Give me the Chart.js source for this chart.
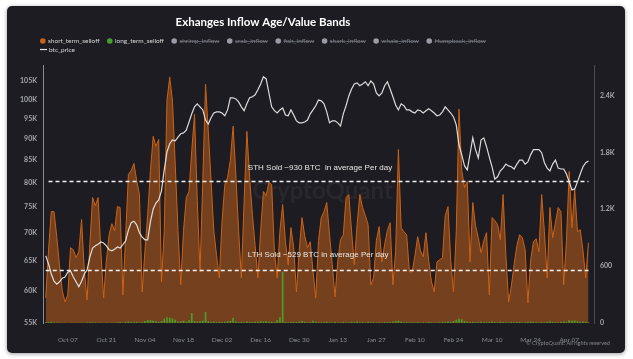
<!DOCTYPE html>
<html>
<head>
<meta charset="utf-8">
<script src="https://cdn.jsdelivr.net/npm/chart.js@4.4.1/dist/chart.umd.min.js"></script>
<style>
  html, body { margin: 0; padding: 0; background: #fff; }
  #wrap { width: 633px; height: 359px; }
</style>
</head>
<body>
<div id="wrap"><canvas id="myChart" width="633" height="359"></canvas></div>
<script>
// daily categories, Sep 28 2024 .. Apr 16 2025
const MONTHS = ['Jan', 'Feb', 'Mar', 'Apr', 'May', 'Jun', 'Jul', 'Aug', 'Sep', 'Oct', 'Nov', 'Dec'];
const dayLabels = [];
for (let i = 0; i <= 200; i++) {
  const d = new Date(Date.UTC(2024, 8, 28) + i * 86400000);
  dayLabels.push(MONTHS[d.getUTCMonth()] + ' ' + String(d.getUTCDate()).padStart(2, '0'));
}
const xTickLabels = ['Oct 07', 'Oct 21', 'Nov 04', 'Nov 18', 'Dec 02', 'Dec 16', 'Dec 30', 'Jan 13', 'Jan 27', 'Feb 10', 'Feb 24', 'Mar 10', 'Mar 24', 'Apr 07'];
const priceTicks = [55000, 60000, 65000, 70000, 75000, 80000, 85000, 90000, 95000, 100000, 105000];
const btcTicks = [0, 600, 1200, 1800, 2400];

// BTC per day
const shortTermSelloff = [null,
  265, 762, 1174, 1174, 910, 603, 339, 222, 296, 794,
  772, 688, 751, 1090, 550, 243, 825, 1323, 1238, 1323,
  762, 265, 656, 931, 1047, 973, 1227, 1217, 296, 920,
  1566, 1608, 1682, 1502, 1354, 328, 762, 1143, 1608, 1968,
  1862, 1936, 434, 963, 2349, 2592, 2338, 1672, 973, 402,
  973, 1323, 1386, 1820, 2200, 1291, 540, 1502, 2518, 2021,
  1502, 973, 709, 476, 1079, 1460, 1534, 1714, 2074, 1566,
  973, 476, 1280, 2021, 1534, 1143, 815, 476, 973, 1386,
  1344, 1481, 1460, 751, 476, 973, 1248, 857, 614, 1005,
  794, 328, 762, 1111, 920, 794, 857, 550, 265, 868,
  1111, 1174, 1270, 931, 614, 275, 656, 878, 931, 1323,
  1354, 973, 614, 1037, 1354, 1217, 1132, 1037, 402, 476,
  868, 1016, 645, 825, 973, 1058, 402, 751, 1830, 1005,
  963, 931, 540, 540, 709, 910, 762, 698, 952, 656,
  434, 328, 645, 667, 688, 1132, 1227, 656, 328, 963,
  2254, 1608, 1428, 1492, 645, 1270, 1026, 899, 741, 868,
  952, 296, 1111, 1079, 1037, 878, 1354, 719, 222, 391,
  614, 815, 931, 899, 772, 212, 656, 857, 889, 751,
  1354, 963, 476, 1217, 899, 1058, 1217, 1174, 402, 868,
  1598, 1005, 1407, 963, 984, 762, 476, 846, null, null];

const longTermSelloff = [0,
  8, 10, 12, 6, 5, 4,
  3, 2, 0, 2, 1, 3, 2, 4, 2,
  5, 8, 6, 4, 3, 5, 2, 4, 3, 6, 3,
  8, 10, 6, 12, 15, 10, 8, 12, 6,
  10, 20, 28, 30, 25, 18, 12,
  20, 45, 60, 55, 50, 35,
  15, 20, 25, 12,
  30, 105, 20, 15,
  18, 25, 115, 20,
  10, 15, 8, 12, 10,
  12, 18, 20, 55, 15,
  10, 12, 8, 15, 12, 10, 14, 12,
  20, 15, 18, 12, 14,
  10, 30, 60, 540, 10,
  8, 10, 12, 10, 14, 20, 12,
  8, 10, 25, 12, 8, 6, 10, 15, 8, 6, 10, 5, 8, 12, 6,
  8, 12, 10, 15, 8, 10, 6, 12, 8, 10, 5, 8, 6, 10, 8,
  10, 14, 20, 25, 12, 8, 10, 6,
  8, 6, 10, 5, 8, 6, 10, 8, 5, 6, 8, 12, 10, 15, 12,
  20, 35, 45, 40, 20, 15, 10,
  12, 10, 8, 14, 10, 8, 12, 15, 10, 8, 14, 10, 8, 6, 10,
  8, 10, 12, 6, 8, 10, 14, 12, 8, 6, 10, 8, 12, 15, 10,
  10, 8, 12, 15, 10, 30, 25, 28, 18, 12, 15, 10, 8, null, null];

// USD, thousands
const btcPriceK = [null,
  65.8, 64.4, 62.7, 61.5, 61.0, 61.4, 62.0, 62.2, 63.0, 63.2,
  62.2, 61.4, 60.6, 61.5, 62.7, 63.4, 65.6, 67.2, 67.6, 67.9,
  68.3, 68.1, 67.6, 66.9, 66.7, 67.0, 67.4, 67.2, 67.8, 68.5,
  70.5, 71.9, 72.2, 71.5, 70.0, 69.2, 68.7, 68.7, 72.1, 74.6,
  75.8, 76.4, 78.3, 82.8, 86.9, 88.8, 89.7, 89.5, 90.4, 91.2,
  91.4, 92.1, 94.1, 96.2, 98.0, 98.8, 98.0, 97.2, 94.6, 93.6,
  95.2, 96.4, 96.7, 96.7, 96.4, 95.7, 97.2, 100.4, 100.4, 100.1,
  99.3, 98.0, 97.0, 98.8, 100.4, 100.7, 101.2, 102.6, 104.2, 106.2,
  105.6, 101.7, 98.0, 97.0, 96.4, 97.2, 97.7, 95.9, 95.7, 97.2,
  95.9, 94.4, 93.9, 93.9, 94.1, 94.6, 96.2, 97.2, 98.3, 99.8,
  99.6, 98.8, 96.7, 93.9, 94.4, 94.4, 93.9, 93.1, 96.2, 98.3,
  100.9, 102.8, 104.2, 104.5, 103.7, 104.2, 104.8, 103.7, 105.0, 104.2,
  101.7, 100.9, 101.7, 103.7, 104.8, 102.8, 100.7, 98.5, 97.2, 98.8,
  98.3, 97.2, 97.2, 96.7, 96.4, 97.2, 97.0, 96.4, 97.0, 97.5,
  97.0, 96.4, 95.7, 95.9, 96.7, 98.0, 97.2, 96.4, 95.4, 93.4,
  88.5, 86.2, 83.7, 82.8, 86.4, 90.2, 87.4, 85.5, 89.7, 90.2,
  88.1, 85.7, 83.5, 80.8, 81.3, 82.6, 83.2, 84.1, 83.7, 83.5,
  83.0, 84.1, 85.0, 85.0, 84.1, 84.6, 86.2, 87.4, 87.4, 87.4,
  86.7, 84.4, 83.2, 82.6, 84.1, 85.0, 83.2, 83.0, 83.0, 81.9,
  80.2, 78.5, 78.7, 80.2, 81.9, 83.5, 84.4, 84.8, null, null];

const hiddenSeries = ['shrimp_inflow', 'crab_inflow', 'fish_inflow', 'shark_inflow', 'whale_inflow', 'Humpback_inflow'];

// dashed reference levels on the BTC axis, with their notes
const levelValues = [1500, 560];
const levelNotes = ['STH Sold ~930 BTC  in average Per day', 'LTH Sold ~529 BTC in average Per day'];

const BG = '#1c1c22';
const ORANGE = 'rgb(204,98,22)';
const GREEN = '#4a9e2c';
const GREY = '#9a9aa4';

const cardPlugin = {
  id: 'card',
  beforeDraw(chart) {
    const ctx = chart.ctx;
    ctx.save();
    ctx.fillStyle = '#ffffff';
    ctx.fillRect(0, 0, chart.width, chart.height);
    ctx.shadowColor = 'rgba(0,0,0,0.4)';
    ctx.shadowBlur = 4;
    ctx.shadowOffsetY = 1;
    ctx.fillStyle = BG;
    ctx.beginPath();
    ctx.roundRect(7, 6, 618, 347, 5);
    ctx.fill();
    ctx.restore();
  },
  beforeDatasetsDraw(chart) {
    const ctx = chart.ctx;
    const a = chart.chartArea;
    ctx.save();
    ctx.font = 'bold 24px Lato';
    ctx.fillStyle = 'rgba(255,255,255,0.05)';
    ctx.textAlign = 'center';
    ctx.textBaseline = 'middle';
    ctx.fillText('CryptoQuant', (a.left + a.right) / 2 + 4, 191);
    ctx.restore();
  },
  afterDatasetsDraw(chart) {
    const ctx = chart.ctx;
    const y1 = chart.scales.y1;
    const x = chart.scales.x;
    ctx.save();
    levelValues.forEach((v, i) => {
      const py = Math.round(y1.getPixelForValue(v)) + 0.5;
      ctx.strokeStyle = '#f2f2f2';
      ctx.lineWidth = 1.4;
      ctx.setLineDash([4, 3]);
      ctx.beginPath();
      ctx.moveTo(x.getPixelForValue(i === 0 ? 2 : 1), py);
      ctx.lineTo(x.getPixelForValue(198), py);
      ctx.stroke();
      ctx.setLineDash([]);
      ctx.font = '8px "Liberation Sans"';
      ctx.fillStyle = '#e6e6e6';
      ctx.textBaseline = 'middle';
      ctx.textAlign = 'left';
      ctx.fillText(levelNotes[i], x.getPixelForValue(74) + 1, py - (i === 0 ? 14 : 16));
    });
    ctx.restore();
  },
  afterDraw(chart) {
    const ctx = chart.ctx;
    ctx.save();
    // title
    ctx.font = 'bold 11.5px Lato';
    ctx.fillStyle = '#ffffff';
    ctx.textAlign = 'center';
    ctx.textBaseline = 'middle';
    ctx.fillText('Exhanges Inflow Age/Value Bands', 263, 22);
    // legend
    ctx.font = '6.5px Lato';
    ctx.textAlign = 'left';
    let lx = 40, ly = 41;
    chart.data.datasets.forEach((ds, i) => {
      const w = ctx.measureText(ds.label).width;
      if (i === 8) {
        lx = 40; ly = 49.5;
        ctx.strokeStyle = '#e6e6e6';
        ctx.lineWidth = 1.2;
        ctx.beginPath();
        ctx.moveTo(lx, ly);
        ctx.lineTo(lx + 7, ly);
        ctx.stroke();
        ctx.fillStyle = '#d8d8d8';
        ctx.fillText(ds.label, lx + 9, ly);
        return;
      }
      ctx.fillStyle = ds.hidden ? GREY : (i === 0 ? ORANGE : GREEN);
      ctx.beginPath();
      ctx.arc(lx + 2.8, ly, 2.8, 0, Math.PI * 2);
      ctx.fill();
      const tx = lx + 8;
      ctx.fillStyle = ds.hidden ? '#7e7e88' : '#d8d8d8';
      ctx.fillText(ds.label, tx, ly);
      if (ds.hidden) {
        ctx.strokeStyle = '#7e7e88';
        ctx.lineWidth = 0.6;
        ctx.beginPath();
        ctx.moveTo(tx, ly + 0.5);
        ctx.lineTo(tx + w, ly + 0.5);
        ctx.stroke();
      }
      lx = tx + w + 7.5;
    });
    // footer
    ctx.font = '5.5px Lato';
    ctx.fillStyle = '#85858f';
    ctx.textAlign = 'right';
    ctx.fillText('\u00A9 CryptoQuant. All rights reserved', 610, 343);
    ctx.restore();
  }
};

const CHART = document.getElementById('myChart');
const datasets = [
  {
    type: 'line',
    label: 'short_term_selloff',
    data: shortTermSelloff,
    yAxisID: 'y1',
    borderColor: ORANGE,
    backgroundColor: 'rgba(200,98,24,0.52)',
    borderWidth: 1,
    fill: 'origin',
    pointRadius: 0,
    tension: 0,
    order: 3
  },
  {
    type: 'bar',
    label: 'long_term_selloff',
    data: longTermSelloff,
    yAxisID: 'y1',
    backgroundColor: GREEN,
    barPercentage: 0.6,
    categoryPercentage: 1,
    order: 2
  }
];
hiddenSeries.forEach(name => {
  datasets.push({ type: 'line', label: name, data: [], yAxisID: 'y1', hidden: true, borderColor: GREY, backgroundColor: GREY });
});
datasets.push({
  type: 'line',
  label: 'btc_price',
  data: btcPriceK.map(v => v === null ? null : v * 1000),
  yAxisID: 'y',
  borderColor: 'rgba(236,236,236,0.92)',
  borderWidth: 1.2,
  fill: false,
  pointRadius: 0,
  tension: 0,
  order: 1
});

const tickFont = { family: 'Lato', size: 7, weight: 'bold' };

new Chart(CHART, {
  data: { labels: dayLabels, datasets: datasets },
  options: {
    responsive: false,
    animation: false,
    layout: { padding: { left: 8, right: 8, top: 65, bottom: 16 } },
    plugins: {
      legend: { display: false },
      title: { display: false },
      tooltip: { enabled: false }
    },
    scales: {
      x: {
        type: 'category',
        offset: false,
        grid: { display: false },
        border: { display: false },
        ticks: { autoSkip: false, maxRotation: 0, padding: 5, color: '#8a8a94', font: { family: 'Lato', size: 6.5 } },
        afterBuildTicks: s => { s.ticks = s.ticks.filter(t => xTickLabels.includes(dayLabels[t.value])); },
        afterFit: s => { s.height = 20; }
      },
      y: {
        type: 'logarithmic',
        position: 'left',
        min: 55000,
        max: 109600,
        grid: { display: false, drawTicks: false },
        border: { display: true, color: '#8a8a92', width: 1 },
        ticks: { padding: 6, color: '#a6a6ae', font: tickFont, callback: v => (v / 1000) + 'K' },
        afterBuildTicks: s => { s.ticks = priceTicks.map(v => ({ value: v })); },
        afterFit: s => { s.width = 35; }
      },
      y1: {
        type: 'linear',
        position: 'right',
        min: 0,
        max: 2720,
        grid: { display: false, drawTicks: false },
        border: { display: true, color: '#4c4c54', width: 1 },
        ticks: { padding: 6, color: '#a6a6ae', font: tickFont, callback: v => v >= 1000 ? (v / 1000).toFixed(1) + 'K' : String(v) },
        afterBuildTicks: s => { s.ticks = btcTicks.map(v => ({ value: v })); },
        afterFit: s => { s.width = 31; }
      }
    }
  },
  plugins: [cardPlugin]
});
</script>
</body>
</html>
